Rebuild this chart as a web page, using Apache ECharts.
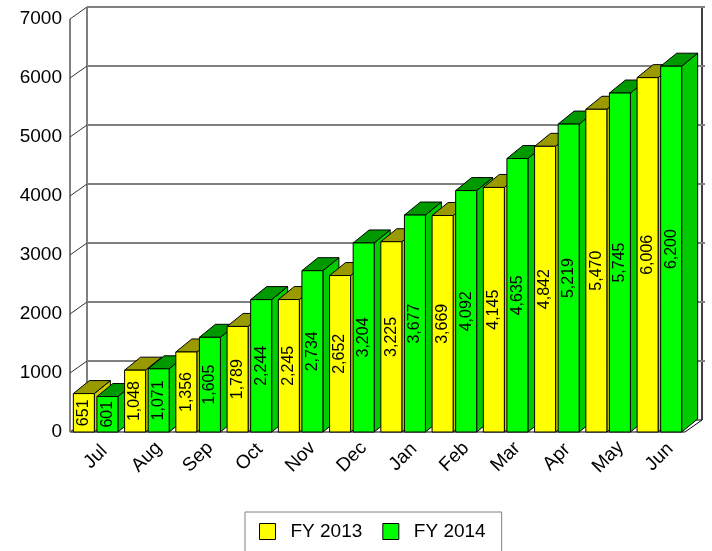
<!DOCTYPE html>
<html>
<head>
<meta charset="utf-8">
<title>FY 2013 vs FY 2014</title>
<script src="https://cdn.jsdelivr.net/npm/echarts@6/dist/echarts.min.js"></script>
<style>
    html, body { margin: 0; padding: 0; background: #fff; }
    #chart { width: 712px; height: 551px; }
</style>
</head>
<body>
<div id="chart"></div>
<script>
// 数据
const months = ['Jul', 'Aug', 'Sep', 'Oct', 'Nov', 'Dec', 'Jan', 'Feb', 'Mar', 'Apr', 'May', 'Jun'];
const fy2013 = [651, 1048, 1356, 1789, 2245, 2652, 3225, 3669, 4145, 4842, 5470, 6006];
const fy2014 = [601, 1071, 1605, 2244, 2734, 3204, 3677, 4092, 4635, 5219, 5745, 6200];
const yTicks = [0, 1000, 2000, 3000, 4000, 5000, 6000, 7000];

const FONT = '"Liberation Sans", Arial, sans-serif';

// 3D 深度
const WALL_DX = 17, WALL_DY = -12;
const BAR_DX = 16, BAR_DY = -13;

// 颜色 (正面 / 侧面 / 顶面)
const colors = [
    { front: '#ffff00', side: '#cccc00', top: '#999900' },
    { front: '#00ff00', side: '#00cc00', top: '#009900' }
];

function fmt(v) {
    return String(v).replace(/\B(?=(\d{3})+(?!\d))/g, ',');
}

// 背景墙和网格线
function renderWall(params, api) {
    const cs = params.coordSys;
    const v = api.value(1);
    const y = api.coord([0, v])[1];
    const gx = cs.x, gr = cs.x + cs.width;
    const children = [];
    if (v === 0) {
        // 地板
        children.push({
            type: 'polygon',
            shape: { points: [[gx, y], [gr, y], [gr + WALL_DX, y + WALL_DY], [gx + WALL_DX, y + WALL_DY]] },
            style: { fill: '#fff', stroke: '#000', lineWidth: 1 }
        });
        // 左侧竖线
        children.push({
            type: 'line',
            shape: { x1: gx, y1: cs.y, x2: gx, y2: y },
            style: { stroke: '#808080', lineWidth: 2 }
        });
        children.push({
            type: 'line',
            shape: { x1: gx + WALL_DX, y1: cs.y + WALL_DY, x2: gx + WALL_DX, y2: y + WALL_DY },
            style: { stroke: '#000', lineWidth: 1 }
        });
        // 右侧竖线
        children.push({
            type: 'line',
            shape: { x1: gr + WALL_DX, y1: cs.y + WALL_DY, x2: gr + WALL_DX, y2: y + WALL_DY },
            style: { stroke: '#000', lineWidth: 1.5 }
        });
    } else {
        children.push({
            type: 'line',
            shape: { x1: gx, y1: y, x2: gx + WALL_DX, y2: y + WALL_DY },
            style: { stroke: '#333', lineWidth: 1 }
        });
        children.push({
            type: 'line',
            shape: { x1: gx + WALL_DX, y1: y + WALL_DY, x2: gr + WALL_DX + 3, y2: y + WALL_DY },
            style: { stroke: '#808080', lineWidth: 2 }
        });
    }
    return { type: 'group', children: children };
}

// 3D 柱子
function makeBarRenderer(s) {
    const c = colors[s];
    return function(params, api) {
        const i = api.value(0);
        const v = api.value(1);
        const base = api.coord([i, 0]);
        const topP = api.coord([i, v]);
        const cw = api.size([1, 0])[0];
        const barW = cw * 0.41;
        const gap = cw * 0.05;
        const x0 = base[0] - cw / 2 + cw * 0.065 + s * (barW + gap);
        const x1 = x0 + barW;
        const yb = base[1];
        const yt = topP[1];
        const z = (i * 2 + s) * 10;
        const edge = { stroke: '#000', lineWidth: 1 };
        return {
            type: 'group',
            children: [
                {
                    type: 'polygon', z2: z + 1,
                    shape: { points: [[x1, yb], [x1 + BAR_DX, yb + BAR_DY], [x1 + BAR_DX, yt + BAR_DY], [x1, yt]] },
                    style: Object.assign({ fill: c.side }, edge)
                },
                {
                    type: 'polygon', z2: z + 2,
                    shape: { points: [[x0, yt], [x1, yt], [x1 + BAR_DX, yt + BAR_DY], [x0 + BAR_DX, yt + BAR_DY]] },
                    style: Object.assign({ fill: c.top }, edge)
                },
                {
                    type: 'rect', z2: z + 3,
                    shape: { x: x0, y: yt, width: barW, height: yb - yt },
                    style: Object.assign({ fill: c.front }, edge)
                },
                {
                    type: 'text', z2: z + 4,
                    x: (x0 + x1) / 2, y: (yt + yb) / 2,
                    rotation: Math.PI / 2,
                    style: {
                        text: fmt(v), fill: '#000',
                        font: '16px ' + FONT,
                        align: 'center', verticalAlign: 'middle'
                    }
                }
            ]
        };
    };
}

document.addEventListener('DOMContentLoaded', function() {
    const chart = echarts.init(document.getElementById('chart'));

    const option = {
        animation: false,
        grid: { left: 70, right: 27, top: 19, bottom: 119 },
        legend: {
            left: 245,
            top: 512,
            icon: 'rect',
            itemWidth: 16,
            itemHeight: 16,
            itemGap: 20,
            padding: [10, 16, 40, 14],
            borderColor: '#808080',
            borderWidth: 1,
            textStyle: { fontSize: 19, fontFamily: FONT, color: '#000', padding: [0, 0, 0, 10] },
            data: [
                { name: 'FY 2013', itemStyle: { color: colors[0].front, borderColor: '#000', borderWidth: 1 } },
                { name: 'FY 2014', itemStyle: { color: colors[1].front, borderColor: '#000', borderWidth: 1 } }
            ]
        },
        xAxis: {
            type: 'category',
            data: months,
            axisLine: { show: false },
            axisTick: { show: false },
            axisLabel: {
                rotate: 45,
                align: 'center',
                verticalAlign: 'middle',
                margin: 25,
                fontSize: 19,
                fontFamily: FONT,
                color: '#000',
                interval: 0
            }
        },
        yAxis: {
            type: 'value',
            min: 0,
            max: 7000,
            interval: 1000,
            axisLine: { show: false },
            axisTick: { show: false },
            splitLine: { show: false },
            axisLabel: {
                fontSize: 19, fontFamily: FONT, color: '#000', margin: 8,
                formatter: function(v) { return String(v); }
            }
        },
        series: [
            {
                type: 'custom',
                name: 'wall',
                z: 1,
                silent: true,
                renderItem: renderWall,
                data: yTicks.map(t => [0, t])
            },
            {
                type: 'custom',
                name: 'FY 2013',
                itemStyle: { color: colors[0].front },
                renderItem: makeBarRenderer(0),
                data: fy2013.map((v, i) => [i, v])
            },
            {
                type: 'custom',
                name: 'FY 2014',
                itemStyle: { color: colors[1].front },
                renderItem: makeBarRenderer(1),
                data: fy2014.map((v, i) => [i, v])
            }
        ]
    };

    chart.setOption(option);
});
</script>
</body>
</html>
